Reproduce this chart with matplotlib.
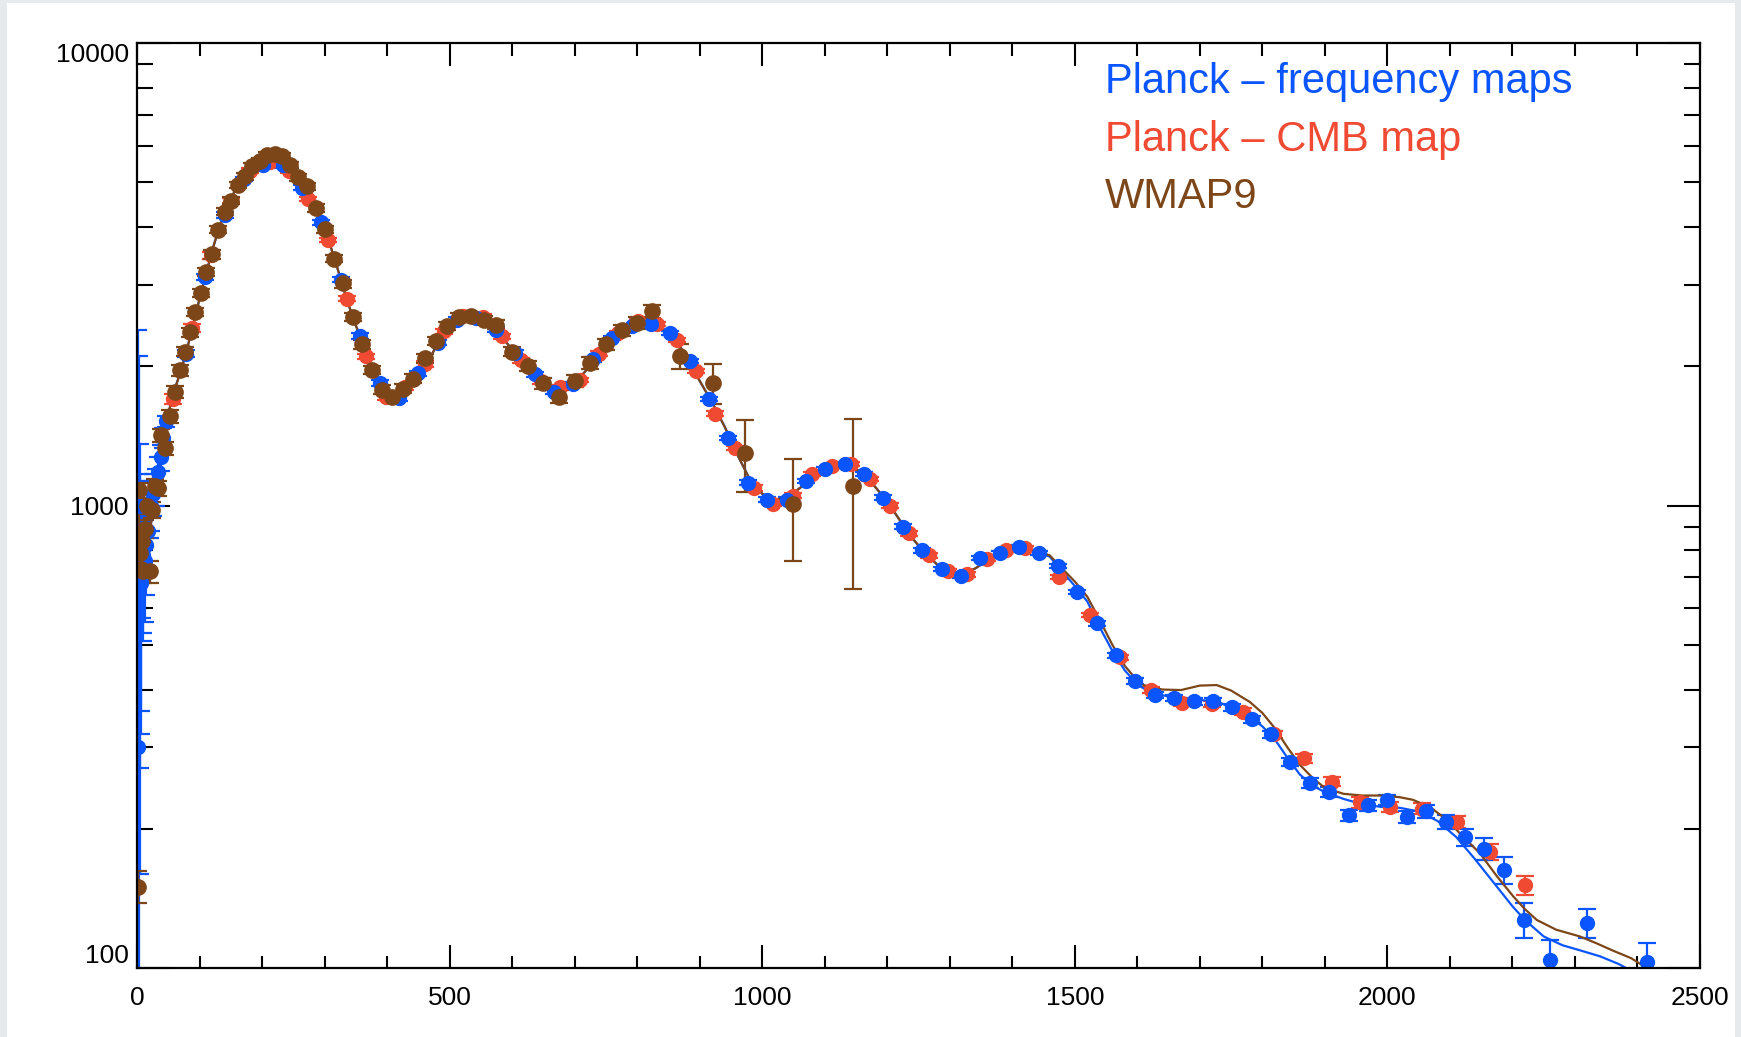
import matplotlib
matplotlib.use("Agg")
import matplotlib.pyplot as plt
from matplotlib.patches import Rectangle
from matplotlib.ticker import FixedLocator, NullFormatter

BLUE = "#0a55ff"
RED = "#f04a32"
BROWN = "#7d4619"

# best-fit spectra
fit_l = [2, 5, 10, 15, 20, 30, 40, 50, 60, 70, 80, 90, 100, 110, 120, 130, 140, 150,
         160, 170, 180, 190, 200, 210, 220, 230, 240, 250, 260, 270, 280, 290, 300,
         310, 320, 330, 340, 350, 360, 370, 380, 390, 400, 410, 420, 430, 440, 450,
         460, 470, 480, 490, 500, 510, 520, 530, 540, 550, 560, 570, 580, 590, 600,
         620, 640, 660, 680, 700, 720, 740, 760, 780, 800, 820, 840, 860, 880, 900,
         920, 940, 960, 980, 1000, 1020, 1040, 1060, 1080, 1100, 1120, 1140, 1160,
         1180, 1200, 1220, 1240, 1260, 1280, 1300, 1320, 1340, 1360, 1380, 1400,
         1420, 1440]
fit_dl = [1000, 850, 800, 820, 880, 1040, 1300, 1580, 1780, 1950, 2180, 2460, 2800,
          3150, 3550, 3930, 4280, 4600, 4900, 5130, 5320, 5450, 5520, 5560, 5560,
          5520, 5400, 5180, 4950, 4720, 4480, 4250, 3950, 3620, 3280, 2950, 2680,
          2450, 2270, 2070, 1900, 1790, 1730, 1710, 1730, 1790, 1860, 1930, 2000,
          2100, 2230, 2360, 2470, 2520, 2540, 2550, 2550, 2530, 2480, 2420, 2350,
          2260, 2170, 2020, 1900, 1800, 1780, 1840, 1970, 2140, 2300, 2400, 2470,
          2480, 2420, 2310, 2080, 1860, 1670, 1480, 1290, 1140, 1060, 1030, 1040,
          1090, 1150, 1200, 1225, 1215, 1180, 1100, 1020, 930, 850, 790, 745, 720,
          712, 730, 760, 785, 800, 805, 795]

planck_tail_l = [1460, 1480, 1500, 1520, 1540, 1560, 1580, 1600, 1620, 1650, 1700,
                 1730, 1760, 1780, 1800, 1820, 1840, 1860, 1880, 1900, 1930, 1960,
                 1990, 2020, 2050, 2080, 2110, 2140, 2170, 2200, 2220, 2250, 2280,
                 2310, 2340, 2370, 2400]
planck_tail_dl = [775, 720, 670, 620, 545, 485, 440, 410, 395, 386, 380, 376, 360,
                  349, 333, 312, 285, 262, 248, 240, 232, 226, 223, 222, 218, 208,
                  192, 172, 153, 136, 127, 117, 112, 109, 106, 102, 97]

wmap_tail_l = [1460, 1480, 1500, 1520, 1540, 1560, 1580, 1600, 1610, 1640, 1670,
               1700, 1727, 1750, 1780, 1800, 1820, 1840, 1860, 1880, 1900, 1930,
               1960, 1990, 2020, 2041, 2070, 2095, 2120, 2148, 2175, 2201, 2220,
               2239, 2270, 2308, 2335, 2361, 2390, 2415, 2440]
wmap_tail_dl = [780, 730, 685, 635, 565, 500, 450, 418, 409, 400, 399, 408, 409,
                398, 376, 356, 330, 300, 275, 258, 245, 238, 236, 236, 234, 231,
                222, 209, 193, 177, 158, 143, 134, 127, 121, 117, 113, 109, 105,
                100, 96]

# Planck - frequency maps
freq_l = [2, 3, 4, 5, 6, 7, 8, 9, 10, 12, 14, 17, 20, 23, 26, 30, 34, 38, 42,
          47, 78, 109, 140, 171, 202, 233, 264, 295, 326, 357, 388, 419, 450, 481,
          512, 543, 574, 605, 636, 667, 698, 729, 760, 791, 822, 853, 884, 915,
          946, 977, 1008, 1039, 1070, 1101, 1132, 1163, 1194, 1225, 1256, 1287,
          1318, 1349, 1380, 1411, 1442, 1473, 1504, 1535, 1566, 1597, 1628, 1659,
          1690, 1721, 1752, 1783, 1814, 1845, 1876, 1907, 1938, 1969, 2000, 2031,
          2062, 2093, 2124, 2155, 2186, 2218, 2260, 2319, 2415]
freq_dl = [300, 1000, 760, 720, 700, 680, 850, 780, 730, 760, 820, 880, 990, 1000,
           1060, 1100, 1180, 1270, 1400,
           1520, 2130, 3120, 4250, 5080, 5450, 5440, 4870, 4100, 3080, 2330, 1840,
           1710, 1930, 2250, 2520, 2540, 2400, 2140, 1920, 1760, 1830, 2070, 2300,
           2440, 2470, 2360, 2050, 1700, 1400, 1120, 1030, 1030, 1130, 1200, 1230,
           1170, 1040, 900, 800, 730, 705, 770, 790, 815, 790, 740, 650, 556, 475,
           418, 390, 383, 377, 377, 366, 345, 320, 279, 251, 240, 214, 225, 231,
           212, 218, 207, 192, 181, 163, 127, 104, 125, 103]
freq_err = [2100, 1100, 600, 450, 380, 320, 280, 250, 220, 200, 180, 160, 140, 120,
            110, 100, 90, 80, 70,
            40, 40, 50, 60, 60, 60, 60, 55, 50, 40, 35, 30, 25, 25, 30, 30, 30, 30,
            25, 25, 20, 20, 25, 25, 25, 25, 25, 20, 20, 15, 15, 12, 12, 12, 12, 12,
            12, 12, 10, 10, 8, 8, 8, 8, 8, 8, 8, 7, 7, 6, 6, 6, 6, 6, 6, 6, 6, 6,
            6, 6, 6, 6, 6, 6, 6, 7, 7, 8, 10, 11, 11, 11, 9, 10]

# Planck - CMB map
cmb_l = [57, 88, 119, 150, 181, 212, 243, 274, 305, 336, 367, 398, 429, 460, 491,
         522, 553, 584, 615, 646, 677, 708, 739, 770, 801, 832, 863, 894, 925, 956,
         987, 1018, 1049, 1080, 1111, 1142, 1173, 1204, 1235, 1266, 1297, 1328,
         1359, 1390, 1421, 1475, 1524, 1573, 1622, 1671, 1720, 1769, 1818, 1866,
         1911, 1956, 2004, 2055, 2111, 2164, 2220]
cmb_dl = [1700, 2420, 3480, 4560, 5300, 5520, 5300, 4600, 3750, 2800, 2100, 1720,
          1800, 2020, 2380, 2570, 2560, 2320, 2060, 1860, 1800, 1870, 2130, 2360,
          2500, 2470, 2280, 1950, 1580, 1330, 1090, 1010, 1050, 1170, 1220, 1230,
          1140, 1000, 870, 780, 720, 710, 765, 800, 810, 700, 580, 470, 400, 375,
          372, 358, 320, 284, 253, 228, 223, 221, 207, 178, 151]
cmb_err = [40, 50, 60, 60, 60, 60, 60, 55, 45, 35, 30, 25, 25, 30, 30, 30, 30, 30,
           25, 25, 20, 20, 25, 25, 25, 25, 25, 20, 20, 15, 15, 12, 12, 12, 12, 12,
           12, 12, 10, 10, 8, 8, 8, 8, 8, 8, 7, 6, 6, 6, 6, 6, 6, 6, 6, 6, 6, 6, 6,
           7, 7]

# WMAP9
wmap_l = [2, 3, 4, 5, 6, 8, 10, 13, 16, 20, 24, 28, 33, 39, 45, 52, 60, 68, 76, 84,
          93, 102, 111, 120, 130, 140, 150, 161, 172, 184, 196, 208, 220, 232, 245,
          258, 272, 286, 300, 315, 330, 345, 360, 376, 392, 408, 425, 442, 460, 478,
          496, 515, 535, 555, 575, 600, 625, 650, 675, 700, 725, 750, 775, 800, 823,
          869, 922, 972, 1050, 1146]
wmap_dl = [150, 1080, 860, 790, 730, 840, 720, 890, 1000, 720, 980, 1100, 1090, 1420,
           1330, 1560, 1760, 1960, 2150, 2370, 2620, 2880, 3200, 3490, 3950, 4320,
           4560, 4930, 5150, 5420, 5560, 5730, 5760, 5700, 5450, 5130, 4900, 4400,
           3960, 3420, 3020, 2560, 2230, 1960, 1780, 1720, 1790, 1880, 2080, 2270,
           2440, 2560, 2570, 2520, 2460, 2150, 2000, 1840, 1720, 1860, 2030, 2230,
           2390, 2480, 2630, 2100, 1840, 1300, 1010, 1100]
wmap_err = [12, 40, 40, 40, 40, 40, 40, 40, 40, 40, 40, 40, 40, 45, 45, 50, 50, 50,
            50, 55, 55, 60, 60, 70, 70, 80, 80, 80, 90, 90, 90, 90, 90, 90, 90, 90,
            80, 80, 70, 60, 60, 50, 45, 40, 40, 40, 40, 40, 45, 45, 50, 50, 50, 55,
            55, 50, 50, 50, 55, 55, 60, 65, 70, 75, 85, 130, 180, 230, 250, 440]

fig = plt.figure(figsize=(17.41, 10.37), dpi=100, facecolor="#e6eaed")
fig.add_artist(Rectangle((7 / 1741, 0), 1728 / 1741, 1 - 3 / 1037,
                         transform=fig.transFigure, facecolor="white",
                         edgecolor="none", zorder=-10))
ax = fig.add_axes([137 / 1741, 1 - 968 / 1037, 1563 / 1741, 925 / 1037])

eb = dict(fmt="o", elinewidth=1.6, capsize=6.5, capthick=1.6)
ax.errorbar(cmb_l, cmb_dl, yerr=cmb_err, color=RED, ms=10, mec=RED, **eb)
ax.errorbar(freq_l, freq_dl, yerr=freq_err, color=BLUE, ms=10, mec=BLUE, **eb)
ax.errorbar(wmap_l, wmap_dl, yerr=wmap_err, color=BROWN, ms=11, mec=BROWN, **eb)

ax.plot(fit_l + planck_tail_l, fit_dl + planck_tail_dl, color=BLUE, lw=1.6)
ax.plot(fit_l + wmap_tail_l, fit_dl + wmap_tail_dl, color=BROWN, lw=1.6)

ax.set_yscale("log")
ax.set_xlim(0, 2500)
ax.set_ylim(100, 10000)

ax.xaxis.set_major_locator(FixedLocator([0, 500, 1000, 1500, 2000, 2500]))
ax.xaxis.set_minor_locator(FixedLocator(list(range(100, 2500, 100))))
ax.set_xticklabels(["0", "500", "1000", "1500", "2000", "2500"])
ax.yaxis.set_major_locator(FixedLocator([100, 1000, 10000]))
ax.yaxis.set_minor_locator(FixedLocator([200, 300, 400, 500, 600, 700, 800, 900,
                                         2000, 3000, 4000, 5000, 6000, 7000, 8000, 9000]))
ax.yaxis.set_minor_formatter(NullFormatter())
ax.set_yticklabels(["100", "1000", "10000"])

for s in ax.spines.values():
    s.set_linewidth(1.6)
ax.tick_params(axis="both", which="both", direction="in", top=True, right=True,
               width=1.5, labelsize=19)
ax.tick_params(axis="x", which="major", length=16.5, pad=13)
ax.tick_params(axis="x", which="minor", length=9)
ax.tick_params(axis="y", which="major", length=23.5, pad=6)
ax.tick_params(axis="y", which="minor", length=11.5)
for lab in ax.get_xticklabels() + ax.get_yticklabels():
    lab.set_fontfamily("Liberation Sans")
ylabs = ax.get_yticklabels()
ylabs[0].set_verticalalignment("bottom")
ylabs[2].set_verticalalignment("top")

legend = [("Planck \u2013 frequency maps", BLUE, 0.9463),
          ("Planck \u2013 CMB map", RED, 0.8832),
          ("WMAP9", BROWN, 0.8216)]
for txt, col, yy in legend:
    ax.text(0.6193, yy, txt, color=col, fontsize=30, family="Liberation Sans",
            transform=ax.transAxes, va="baseline", ha="left")

fig.savefig("out.png", dpi=100, facecolor=fig.get_facecolor())
